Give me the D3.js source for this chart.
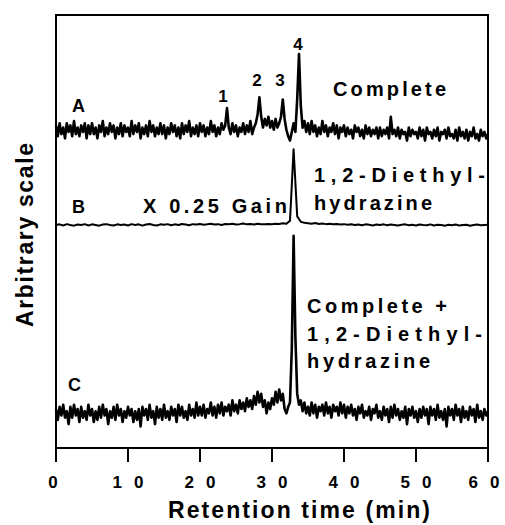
<!DOCTYPE html>
<html>
<head>
<meta charset="utf-8">
<script src="https://cdn.jsdelivr.net/npm/d3@7"></script>
<style>
  body { margin: 0; background: #fff; }
  text { font-family: "Liberation Sans", Arial, Helvetica, sans-serif; font-weight: bold; fill: #000; }
</style>
</head>
<body>
<div id="chart"></div>
<script>
// retention time axis
var tickValues = [0, 10, 20, 30, 40, 50, 60];

// three traces, arbitrary units relative to each baseline
var traceNames = ["A", "B", "C"];
var traceOffsets = [147, 103, 16];
var traceSteps = [0.25, 0.5, 0.25]; // minutes between points

var traceA = [
  2, -3, 3, -2, 1, -4, 3, -1, 2, -3, 4, -2, 1, -3, 2, -1, 3, -4, 2, -2,
  3, -2, 1, -4, 2, -1, 4, -3, 1, -2, 3, -1, 2, -4, 1, -2, 3, -3, 2, -1,
  1, -3, 4, -2, 2, -1, 3, -4, 1, -2, 2, -3, 4, -1, 2, -3, 1, -2, 3, -2,
  2, -4, 1, -2, 3, -1, 2, -3, 1, -4, 3, -2, 2, -1, 4, -3, 1, -2, 2, -3,
  3, -1, 2, -3, 1, -2, 4, -1, 2, -3, 1, -2, 3, 0, 2, 10, 1, -2, 3, -1,
  2, -3, 1, -1, 3, -2, 2, -1, 4, -2, 1, 3, 7, 15, 6, 1, 5, 2, 6, 1,
  4, 0, 5, 1, 3, 6, 14, 5, 0, -3, -5, -1, 3, -1, 14, 35, 11, 1, 4, -1,
  3, -2, 4, -1, 2, -3, 1, -2, 4, -1, 2, -3, 1, -1, 3, -2, 2, -4, 1, -1,
  2, -3, 1, -2, 0, -4, 2, -1, 1, -3, 0, -4, 2, -2, 1, -3, 0, -2, 1, -4,
  1, -3, 0, -2, 1, -4, 6, -2, 0, -3, 1, -4, 0, -2, -1, -5, 1, -3, 0, -2,
  -1, -4, 1, -3, 0, -5, 1, -2, -1, -4, 0, -3, 1, -5, -1, -2, 0, -4, 1, -3,
  -2, -4, 0, -5, 1, -3, -1, -4, 0, -5, -1, -3, 1, -4, -2, -5, 0, -3, -1, -4,
  -2
];

var traceB = [
  0, 0.3, -0.2, 0.4, 0, -0.3, 0.2, 0, 0.4, -0.2, 0.3, 0, -0.3, 0.2, 0.4, 0, -0.2, 0.3, 0, 0.2,
  -0.2, 0.4, 0, 0.3, -0.3, 0.2, 0.5, 0, -0.2, 0.3, 0.1, 0.4, -0.1, 0.3, 0, 0.5, 0.2, -0.1, 0.4, 0.2,
  0.5, 0.1, 0.3, 0.6, 0.2, 0.4, 0, 0.5, 0.3, 0.6, 0.2, 0.4, 0.7, 0.3, 0.5, 0.2, 0.6, 0.4, 0.3, 0.5,
  0.4, 0.6, 0.5, 0.8, 0.6, 2, 35, 4, 1.5, 1, 0.8, 0.6, 0.9, 0.5, 0.7, 0.4, 0.6, 0.3, 0.5, 0.2,
  0.4, 0.1, 0.3, 0, 0.2, -0.1, 0.3, 0.1, -0.2, 0.2, 0, 0.3, -0.1, 0.2, 0, -0.2, 0.1, 0.3, -0.1, 0.1,
  -0.2, 0.2, 0, -0.1, 0.3, -0.2, 0.1, 0, -0.3, 0.1, -0.1, 0.2, -0.2, 0, 0.1, -0.3, 0, 0.2, -0.1, 0,
  0.1
];

var traceC = [
  2, -3, 3, -1, 4, -2, 1, -5, 3, -2, 4, -1, 2, -4, 3, -2, 1, -3, 4, -1,
  2, -4, 1, -3, 3, -2, 4, -1, 2, -5, 1, -2, 3, -3, 4, -1, 2, -4, 1, -2,
  3, -1, 2, -4, 1, -3, 2, -6, 3, -1, 2, -3, 4, -2, 1, -5, 3, -2, 2, -3,
  4, -2, 1, -3, 3, -1, 2, -4, 4, -1, 3, -2, 1, -3, 4, -1, 2, -2, 5, -1,
  3, -1, 4, -2, 2, 0, 5, -1, 3, -2, 4, 0, 5, -1, 3, 1, 4, -1, 6, 1,
  4, 0, 6, 2, 5, 1, 7, 3, 6, 2, 8, 4, 10, 5, 9, 3, 6, 0, 5, 2,
  7, 4, 10, 5, 11, 6, 9, 2, 0, 3, 5, 30, 82, 35, 9, 4, 6, 1, 5, 0,
  3, -1, 5, 0, 4, -2, 3, 1, 4, -1, 5, 0, 3, -2, 4, 1, 3, -1, 5, 0,
  4, -2, 3, 0, 4, -1, 2, -3, 3, 0, 4, -2, 1, -1, 3, -3, 2, 0, 4, -2,
  1, -3, 3, -1, 2, -4, 3, -2, 4, -1, 2, -3, 1, -2, 3, -5, 2, -1, 3, -2,
  1, -4, 2, -2, 3, -1, 2, -5, 3, -1, 2, -3, 4, -2, 1, -3, 2, -6, 3, -1,
  2, -3, 4, -1, 2, -4, 3, -2, 1, -3, 3, -1, 2, -4, 4, -2, 1, -3, 2, -1,
  1
];

var traces = [traceA, traceB, traceC];

// peak numbers on trace A
var peakLabels = ["1", "2", "3", "4"];
var peakLabelTimes = [23.2, 27.9, 31.1, 33.6];
var peakLabelLevels = [160, 167, 167, 184];

var width = 505, height = 525;
var margin = {top: 15, right: 17, bottom: 77, left: 56};

var svg = d3.select("#chart").append("svg")
  .attr("width", width)
  .attr("height", height);

var x = d3.scaleLinear()
  .domain([0, 60])
  .range([margin.left, width - margin.right]);

var y = d3.scaleLinear()
  .domain([0, 200])
  .range([height - margin.bottom, margin.top]);

// frame
svg.append("rect")
  .attr("x", x(0))
  .attr("y", y(200))
  .attr("width", x(60) - x(0))
  .attr("height", y(0) - y(200))
  .attr("fill", "none")
  .attr("stroke", "#000")
  .attr("stroke-width", 2);

// bottom ticks hanging below the frame
var xAxis = svg.append("g")
  .attr("transform", "translate(0," + y(0) + ")");

xAxis.selectAll("line")
  .data(tickValues)
  .enter().append("line")
  .attr("x1", function(d) { return x(d); })
  .attr("x2", function(d) { return x(d); })
  .attr("y1", 0)
  .attr("y2", 14)
  .attr("stroke", "#000")
  .attr("stroke-width", 2);

xAxis.selectAll("text")
  .data(tickValues)
  .enter().append("text")
  .attr("x", function(d) { return x(d) - (d === 0 ? 3 : d === 60 ? 4 : 0); })
  .attr("y", 40)
  .attr("text-anchor", "middle")
  .attr("font-size", 17)
  .attr("textLength", function(d) { return d < 10 ? null : 31; })
  .attr("lengthAdjust", "spacing")
  .text(function(d) { return d; });

// traces
traces.forEach(function(vals, k) {
  var line = d3.line()
    .x(function(d, i) { return x(i * traceSteps[k]); })
    .y(function(d) { return y(d + traceOffsets[k]); });
  svg.append("path")
    .datum(vals)
    .attr("d", line)
    .attr("fill", "none")
    .attr("stroke", "#000")
    .attr("stroke-width", k === 1 ? 2 : 2.6)
    .attr("stroke-linejoin", "round");
});

// trace letters
var letterY = [112, 213, 391];
svg.selectAll(".trace-name")
  .data(traceNames)
  .enter().append("text")
  .attr("class", "trace-name")
  .attr("x", function(d, i) { return i === 2 ? 68 : 72; })
  .attr("y", function(d, i) { return letterY[i]; })
  .attr("font-size", 18)
  .text(function(d) { return d; });

// peak numbers
svg.selectAll(".peak-label")
  .data(peakLabels)
  .enter().append("text")
  .attr("class", "peak-label")
  .attr("x", function(d, i) { return x(peakLabelTimes[i]); })
  .attr("y", function(d, i) { return y(peakLabelLevels[i]); })
  .attr("text-anchor", "middle")
  .attr("font-size", 17)
  .text(function(d) { return d; });

// annotations
var notes = [
  {t: "Complete", x: 333, y: 96, w: 113},
  {t: "X 0.25 Gain", x: 143, y: 213, w: 144},
  {t: "1,2-Diethyl-", x: 314, y: 182, w: 171},
  {t: "hydrazine", x: 314, y: 210, w: 118},
  {t: "Complete +", x: 307, y: 313, w: 140},
  {t: "1,2-Diethyl-", x: 307, y: 341, w: 175},
  {t: "hydrazine", x: 307, y: 368, w: 123}
];

svg.selectAll(".note")
  .data(notes)
  .enter().append("text")
  .attr("class", "note")
  .attr("x", function(d) { return d.x; })
  .attr("y", function(d) { return d.y; })
  .attr("font-size", 20)
  .attr("textLength", function(d) { return d.w; })
  .attr("lengthAdjust", "spacing")
  .text(function(d) { return d.t; });

// axis titles
svg.append("text")
  .attr("x", 168)
  .attr("y", 518)
  .attr("font-size", 23)
  .attr("textLength", 262)
  .attr("lengthAdjust", "spacing")
  .text("Retention time (min)");

svg.append("text")
  .attr("transform", "translate(33,235) rotate(-90)")
  .attr("text-anchor", "middle")
  .attr("font-size", 23)
  .attr("textLength", 184)
  .attr("lengthAdjust", "spacing")
  .text("Arbitrary scale");
</script>
</body>
</html>
